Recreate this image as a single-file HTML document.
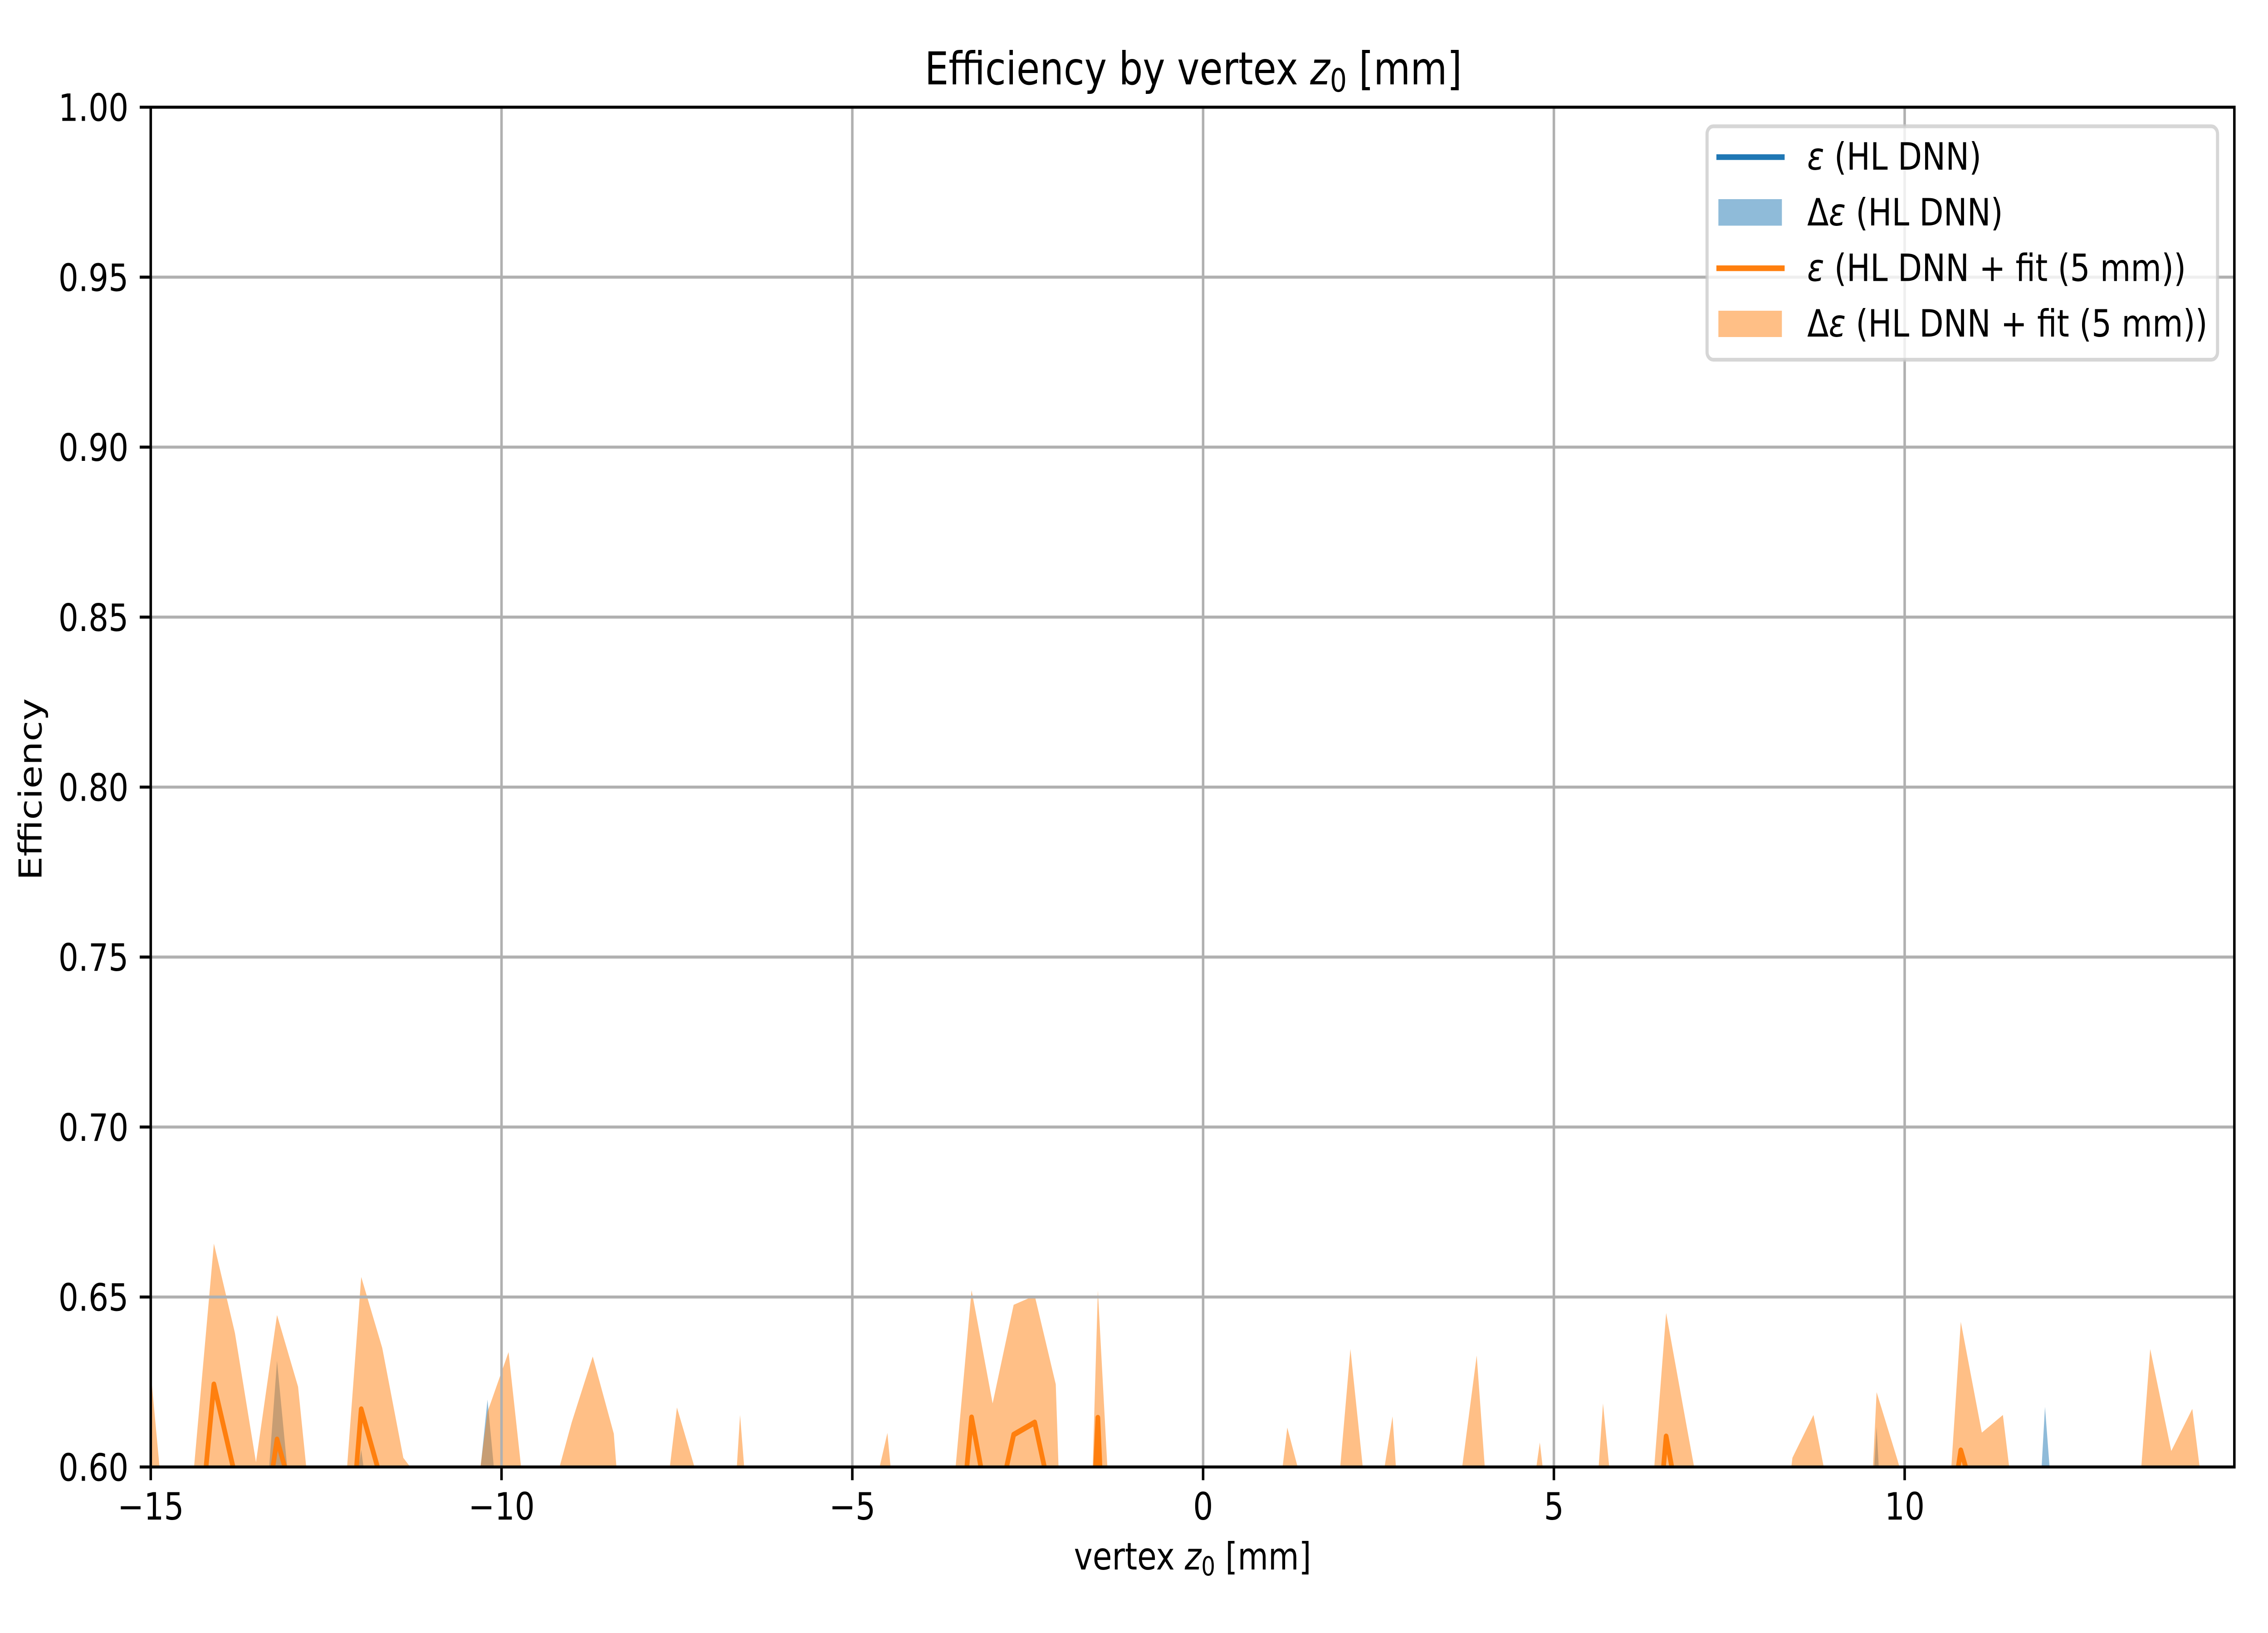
<!DOCTYPE html>
<html lang="en">
<head>
<meta charset="utf-8">
<title>Efficiency by vertex z0 [mm]</title>
<style>
  html, body { margin: 0; padding: 0; background: #fff; width: 100%; height: 100%; overflow: hidden; }
  svg { display: block; position: fixed; left: 0; top: 0; width: 100vw; height: 100vh; }
  text { font-family: "DejaVu Sans", "Liberation Sans", sans-serif; fill: #000; white-space: pre; }
</style>
</head>
<body>
<svg id="chart" xmlns="http://www.w3.org/2000/svg" viewBox="0 0 6000 3600" preserveAspectRatio="none">
  <rect x="0" y="0" width="6000" height="3600" fill="#ffffff"/>
  <defs>
    <clipPath id="plot-clip"><rect x="398.8" y="236.3" width="5512.2" height="2997.7"/></clipPath>
  </defs>
  <g id="bands" clip-path="url(#plot-clip)"></g>
  <g id="grid"></g>
  <g id="lines" clip-path="url(#plot-clip)"></g>
  <rect x="398.8" y="236.3" width="5512.2" height="2997.7" fill="none" stroke="#000" stroke-width="6.67" stroke-linejoin="miter"/>
  <g id="ticks"></g>

  <text x="3157" y="186" font-size="100" text-anchor="middle">Efficiency by vertex <tspan font-style="italic">z</tspan><tspan font-size="70" dy="16">0</tspan><tspan dy="-16"> [mm]</tspan></text>
  <text x="3155" y="3460" font-size="83.33" text-anchor="middle">vertex <tspan font-style="italic">z</tspan><tspan font-size="58.3" dy="13">0</tspan><tspan dy="-13"> [mm]</tspan></text>
  <text x="110" y="1740" font-size="83.33" text-anchor="middle" transform="rotate(-90 110 1740)">Efficiency</text>

  <g>
    <rect x="4516" y="278.4" width="1350.5" height="514.6" rx="16.7" ry="16.7" fill="#ffffff" fill-opacity="0.8" stroke="#cccccc" stroke-opacity="0.8" stroke-width="8.33"/>
    <g>
      <line x1="4547" y1="346.4" x2="4715" y2="346.4" stroke="#1f77b4" stroke-width="12.5" stroke-linecap="square"/>
      <text x="4781" y="374" font-size="83.33"><tspan font-style="italic">ε</tspan> (HL DNN)</text>
    </g>
    <g>
      <rect x="4546" y="439" width="168" height="58.5" fill="#1f77b4" fill-opacity="0.5"/>
      <text x="4781" y="497" font-size="83.33">Δ<tspan font-style="italic">ε</tspan> (HL DNN)</text>
    </g>
    <g>
      <line x1="4547" y1="591.4" x2="4715" y2="591.4" stroke="#ff7f0e" stroke-width="12.5" stroke-linecap="square"/>
      <text x="4781" y="619.6" font-size="83.33"><tspan font-style="italic">ε</tspan> (HL DNN + fit (5 mm))</text>
    </g>
    <g>
      <rect x="4546" y="685" width="168" height="58" fill="#ff7f0e" fill-opacity="0.5"/>
      <text x="4781" y="742" font-size="83.33">Δ<tspan font-style="italic">ε</tspan> (HL DNN + fit (5 mm))</text>
    </g>
  </g>
</svg>
<script>
const xStart = -15;
const xStep = 0.3;
const xTicks = [-15, -10, -5, 0, 5, 10];
const xTickLabels = ["\u221215", "\u221210", "\u22125", "0", "5", "10"];
const yTicks = [0.6, 0.65, 0.7, 0.75, 0.8, 0.85, 0.9, 0.95, 1.0];
const yTickLabels = ["0.60", "0.65", "0.70", "0.75", "0.80", "0.85", "0.90", "0.95", "1.00"];

const fitUpper = [
  0.6279, 0.561, 0.596, 0.6657, 0.6394, 0.6014, 0.6447, 0.6236, 0.5627, 0.5726,
  0.6559, 0.635, 0.6027, 0.5945, 0.56, 0.568, 0.6162, 0.6338, 0.577, 0.5904,
  0.6131, 0.6325, 0.6098, 0.532, 0.5655, 0.6175, 0.5965, 0.516, 0.6153, 0.537,
  0.56, 0.565, 0.57, 0.56, 0.583, 0.61, 0.544, 0.56, 0.5835, 0.652,
  0.6187, 0.6477, 0.6504, 0.6243, 0.44, 0.6519, 0.537, 0.56, 0.56, 0.565,
  0.56, 0.56, 0.565, 0.5595, 0.6116, 0.588, 0.563, 0.6347, 0.5755, 0.6149,
  0.5225, 0.56, 0.5853, 0.6328, 0.547, 0.564, 0.6072, 0.5535, 0.528, 0.6187,
  0.5556, 0.565, 0.6453, 0.6111, 0.5775, 0.56, 0.56, 0.55, 0.6027, 0.6153,
  0.584, 0.4946, 0.622, 0.6019, 0.58, 0.5477, 0.6427, 0.6101, 0.6153, 0.5642,
  0.56, 0.56, 0.565, 0.56, 0.5528, 0.6347, 0.6047, 0.6171, 0.568, 0.56
];
const fitLower = [
  0.575, 0.56, 0.57, 0.585, 0.58, 0.57, 0.585, 0.58, 0.56, 0.565,
  0.585, 0.58, 0.575, 0.57, 0.56, 0.56, 0.575, 0.58, 0.565, 0.57,
  0.575, 0.58, 0.575, 0.555, 0.56, 0.575, 0.57, 0.555, 0.575, 0.555,
  0.56, 0.56, 0.56, 0.56, 0.565, 0.575, 0.56, 0.56, 0.565, 0.585,
  0.575, 0.585, 0.585, 0.58, 0.555, 0.585, 0.555, 0.56, 0.56, 0.56,
  0.56, 0.56, 0.56, 0.56, 0.575, 0.565, 0.56, 0.58, 0.565, 0.575,
  0.555, 0.56, 0.565, 0.58, 0.56, 0.56, 0.575, 0.56, 0.555, 0.575,
  0.56, 0.56, 0.585, 0.575, 0.565, 0.56, 0.56, 0.56, 0.57, 0.575,
  0.565, 0.555, 0.58, 0.575, 0.565, 0.56, 0.585, 0.575, 0.575, 0.56,
  0.56, 0.56, 0.56, 0.56, 0.56, 0.58, 0.57, 0.575, 0.56, 0.56
];
const fitEfficiency = [
  0.57, 0.56, 0.559, 0.6243, 0.5976, 0.567, 0.6081, 0.586, 0.56, 0.541,
  0.617, 0.595, 0.57, 0.565, 0.56, 0.56, 0.57, 0.575, 0.56, 0.565,
  0.57, 0.575, 0.57, 0.555, 0.56, 0.57, 0.565, 0.555, 0.57, 0.555,
  0.56, 0.56, 0.56, 0.56, 0.565, 0.57, 0.56, 0.56, 0.55, 0.6146,
  0.5815, 0.6095, 0.6131, 0.5846, 0.48, 0.6145, 0.47, 0.56, 0.56, 0.56,
  0.56, 0.56, 0.56, 0.56, 0.57, 0.565, 0.56, 0.575, 0.56, 0.57,
  0.555, 0.56, 0.565, 0.575, 0.56, 0.56, 0.57, 0.56, 0.555, 0.57,
  0.56, 0.5375, 0.609, 0.5754, 0.565, 0.56, 0.56, 0.56, 0.565, 0.57,
  0.565, 0.555, 0.575, 0.57, 0.56, 0.564, 0.6049, 0.5836, 0.57, 0.56,
  0.56, 0.56, 0.56, 0.56, 0.56, 0.575, 0.565, 0.57, 0.56, 0.56
];
const dnnUpper = [
  0.57, 0.56, 0.565, 0.575, 0.57, 0.548, 0.6312, 0.5665, 0.56, 0.565,
  0.605, 0.56, 0.565, 0.56, 0.56, 0.559, 0.6198, 0.554, 0.56, 0.56,
  0.56, 0.57, 0.56, 0.555, 0.56, 0.565, 0.56, 0.555, 0.565, 0.555,
  0.56, 0.555, 0.56, 0.56, 0.56, 0.565, 0.555, 0.555, 0.56, 0.58,
  0.57, 0.575, 0.58, 0.57, 0.555, 0.575, 0.555, 0.555, 0.56, 0.555,
  0.555, 0.56, 0.555, 0.56, 0.565, 0.56, 0.56, 0.57, 0.56, 0.565,
  0.555, 0.555, 0.56, 0.57, 0.555, 0.56, 0.565, 0.555, 0.555, 0.565,
  0.555, 0.56, 0.575, 0.565, 0.56, 0.56, 0.555, 0.555, 0.56, 0.565,
  0.56, 0.505, 0.6118, 0.497, 0.56, 0.555, 0.57, 0.565, 0.565, 0.507,
  0.6177, 0.5366, 0.555, 0.555, 0.555, 0.57, 0.56, 0.565, 0.56, 0.555
];
const dnnLower = [
  0.555, 0.554, 0.555, 0.56, 0.557, 0.556, 0.575, 0.558, 0.555, 0.556,
  0.565, 0.556, 0.555, 0.555, 0.554, 0.556, 0.57, 0.555, 0.555, 0.554,
  0.555, 0.558, 0.555, 0.554, 0.554, 0.556, 0.555, 0.554, 0.556, 0.554,
  0.554, 0.554, 0.555, 0.554, 0.555, 0.556, 0.554, 0.554, 0.555, 0.56,
  0.557, 0.558, 0.56, 0.557, 0.554, 0.558, 0.554, 0.554, 0.554, 0.554,
  0.554, 0.554, 0.554, 0.554, 0.556, 0.555, 0.554, 0.557, 0.555, 0.556,
  0.554, 0.554, 0.555, 0.557, 0.554, 0.554, 0.556, 0.554, 0.554, 0.556,
  0.554, 0.555, 0.558, 0.556, 0.555, 0.554, 0.554, 0.554, 0.555, 0.556,
  0.555, 0.554, 0.565, 0.555, 0.555, 0.554, 0.557, 0.556, 0.556, 0.555,
  0.566, 0.558, 0.554, 0.554, 0.554, 0.557, 0.555, 0.556, 0.555, 0.554
];
const dnnEfficiency = [
  0.565, 0.558, 0.56, 0.57, 0.565, 0.562, 0.59, 0.568, 0.56, 0.565,
  0.585, 0.565, 0.56, 0.558, 0.557, 0.566, 0.592, 0.567, 0.558, 0.557,
  0.558, 0.565, 0.558, 0.556, 0.557, 0.56, 0.558, 0.556, 0.56, 0.556,
  0.557, 0.556, 0.558, 0.557, 0.558, 0.56, 0.556, 0.556, 0.558, 0.57,
  0.565, 0.568, 0.57, 0.565, 0.556, 0.568, 0.556, 0.556, 0.557, 0.556,
  0.556, 0.557, 0.556, 0.557, 0.56, 0.558, 0.557, 0.565, 0.558, 0.56,
  0.556, 0.556, 0.558, 0.565, 0.556, 0.557, 0.56, 0.556, 0.556, 0.56,
  0.556, 0.557, 0.568, 0.56, 0.558, 0.557, 0.556, 0.556, 0.558, 0.56,
  0.558, 0.56, 0.582, 0.56, 0.558, 0.556, 0.565, 0.56, 0.56, 0.562,
  0.588, 0.565, 0.556, 0.556, 0.556, 0.565, 0.558, 0.56, 0.557, 0.556
];

const SVG_NS = "http://www.w3.org/2000/svg";
const X_ZERO_PX = 3182.8;
const X_PX_PER_UNIT = 185.6;
const Y_BASE_PX = 3234;
const Y_TOP_PX = 236.3;
const Y_MIN = 0.6;
const Y_MAX = 1.0;
const PLOT_LEFT = 398.8;
const PLOT_RIGHT = 5911;
const GEOMETRY_FLOOR = 0.553;

function xScale(v) { return X_ZERO_PX + v * X_PX_PER_UNIT; }
function yScale(v) { return Y_BASE_PX - (v - Y_MIN) / (Y_MAX - Y_MIN) * (Y_BASE_PX - Y_TOP_PX); }
function xAt(i) { return xStart + xStep * i; }
function make(tag) { return document.createElementNS(SVG_NS, tag); }

/* Cut a series at the floor, keeping the true slope where a segment crosses it. */
function flooredPoints(values) {
  const pts = [];
  values.forEach(function (v, i) {
    if (i > 0) {
      const prev = values[i - 1];
      if ((prev - GEOMETRY_FLOOR) * (v - GEOMETRY_FLOOR) < 0) {
        const t = (GEOMETRY_FLOOR - prev) / (v - prev);
        pts.push(xScale(xAt(i - 1 + t)).toFixed(2) + "," + yScale(GEOMETRY_FLOOR).toFixed(2));
      }
    }
    pts.push(xScale(xAt(i)).toFixed(2) + "," + yScale(Math.max(v, GEOMETRY_FLOOR)).toFixed(2));
  });
  return pts;
}
function bandPath(upper, lower) {
  return "M" + flooredPoints(upper).concat(flooredPoints(lower).reverse()).join("L") + "Z";
}
function linePath(values) {
  return "M" + flooredPoints(values).join("L");
}

const bands = document.getElementById("bands");
const gridGroup = document.getElementById("grid");
const linesGroup = document.getElementById("lines");
const ticksGroup = document.getElementById("ticks");

const dnnBand = make("path");


dnnBand.setAttribute("d", bandPath(dnnUpper, dnnLower));
dnnBand.setAttribute("fill", "#1f77b4");
dnnBand.setAttribute("fill-opacity", "0.5");
bands.appendChild(dnnBand);

const fitBand = make("path");


fitBand.setAttribute("d", bandPath(fitUpper, fitLower));
fitBand.setAttribute("fill", "#ff7f0e");
fitBand.setAttribute("fill-opacity", "0.5");
bands.appendChild(fitBand);

xTicks.forEach(function (t, i) {
  const px = xScale(t);
  if (i > 0) {
    const g = make("line");
    
    
    g.setAttribute("x1", px);
    g.setAttribute("x2", px);
    g.setAttribute("y1", Y_TOP_PX);
    g.setAttribute("y2", Y_BASE_PX);
    g.setAttribute("stroke", "#b0b0b0");
    g.setAttribute("stroke-width", "6.67");
    gridGroup.appendChild(g);
  }
  const tick = make("line");
  
  
  tick.setAttribute("x1", px);
  tick.setAttribute("x2", px);
  tick.setAttribute("y1", Y_BASE_PX);
  tick.setAttribute("y2", Y_BASE_PX + 29.2);
  tick.setAttribute("stroke", "#000");
  tick.setAttribute("stroke-width", "6.67");
  ticksGroup.appendChild(tick);
  const label = make("text");
  
  
  label.setAttribute("x", px);
  label.setAttribute("y", 3350);
  label.setAttribute("font-size", "83.33");
  label.setAttribute("text-anchor", "middle");
  label.textContent = xTickLabels[i];
  ticksGroup.appendChild(label);
});

yTicks.forEach(function (t, i) {
  const py = yScale(t);
  if (i > 0 && i < yTicks.length - 1) {
    const g = make("line");
    
    
    g.setAttribute("x1", PLOT_LEFT);
    g.setAttribute("x2", PLOT_RIGHT);
    g.setAttribute("y1", py);
    g.setAttribute("y2", py);
    g.setAttribute("stroke", "#b0b0b0");
    g.setAttribute("stroke-width", "6.67");
    gridGroup.appendChild(g);
  }
  const tick = make("line");
  
  
  tick.setAttribute("x1", PLOT_LEFT - 29.2);
  tick.setAttribute("x2", PLOT_LEFT);
  tick.setAttribute("y1", py);
  tick.setAttribute("y2", py);
  tick.setAttribute("stroke", "#000");
  tick.setAttribute("stroke-width", "6.67");
  ticksGroup.appendChild(tick);
  const label = make("text");
  
  
  label.setAttribute("x", 340);
  label.setAttribute("y", py + 30.4);
  label.setAttribute("font-size", "83.33");
  label.setAttribute("text-anchor", "end");
  label.textContent = yTickLabels[i];
  ticksGroup.appendChild(label);
});

const dnnLine = make("path");


dnnLine.setAttribute("d", linePath(dnnEfficiency));
dnnLine.setAttribute("fill", "none");
dnnLine.setAttribute("stroke", "#1f77b4");
dnnLine.setAttribute("stroke-width", "12.5");
dnnLine.setAttribute("stroke-linejoin", "round");
linesGroup.appendChild(dnnLine);

const fitLine = make("path");


fitLine.setAttribute("d", linePath(fitEfficiency));
fitLine.setAttribute("fill", "none");
fitLine.setAttribute("stroke", "#ff7f0e");
fitLine.setAttribute("stroke-width", "12.5");
fitLine.setAttribute("stroke-linejoin", "round");
linesGroup.appendChild(fitLine);
</script>
</body>
</html>
